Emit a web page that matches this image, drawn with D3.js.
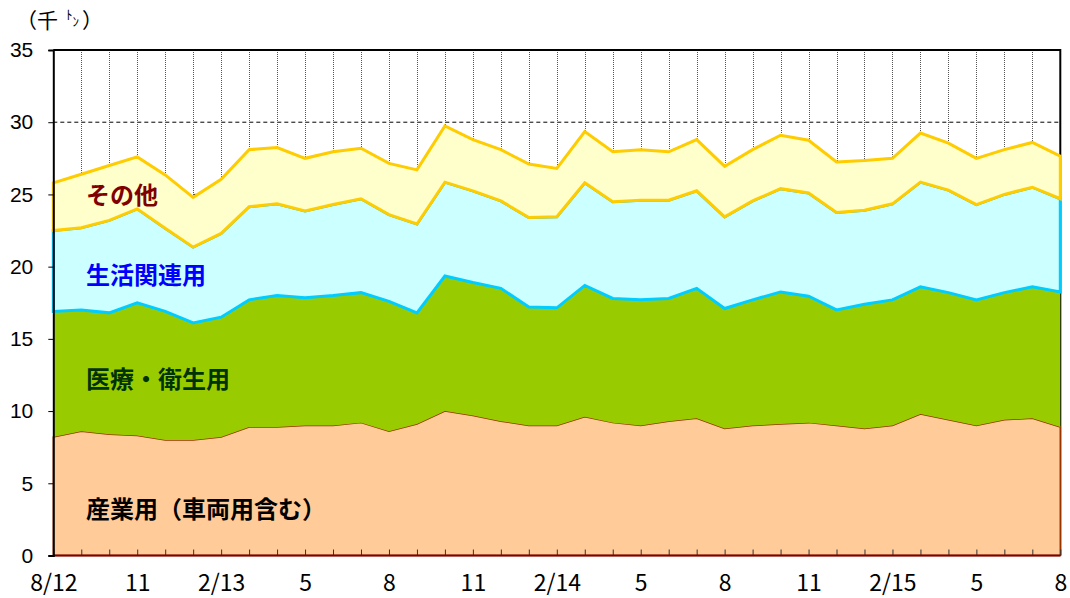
<!DOCTYPE html>
<html>
<head>
<meta charset="utf-8">
<script src="https://cdn.jsdelivr.net/npm/d3@7"></script>
<style>
  body { margin: 0; background: #fff; }
  svg { display: block; }
</style>
</head>
<body>
<div id="chart"></div>
<script>
// =================================== DATA ===================================

// x軸ラベル（3か月ごと）
const xLabels = ['8/12', '11', '2/13', '5', '8', '11', '2/14', '5', '8', '11', '2/15', '5', '8']

// 系列名
const seriesNames = ['産業用（車両用含む）', '医療・衛生用', '生活関連用', 'その他']

// 各系列の月次値（千トン）
const sangyo = [8.2, 8.6, 8.4, 8.3, 8.0, 8.0, 8.2, 8.9, 8.9, 9.0, 9.0, 9.2, 8.6, 9.1, 10.0, 9.7, 9.3, 9.0, 9.0,
  9.6, 9.2, 9.0, 9.3, 9.5, 8.8, 9.0, 9.1, 9.2, 9.0, 8.8, 9.0, 9.8, 9.4, 9.0, 9.4, 9.5, 8.9]
const iryo = [8.7, 8.4, 8.4, 9.2, 8.9, 8.1, 8.3, 8.8, 9.1, 8.85, 9.0, 9.0, 9.0, 7.7, 9.35, 9.2, 9.2, 8.2, 8.15,
  9.1, 8.6, 8.7, 8.5, 9.0, 8.3, 8.7, 9.15, 8.75, 8.0, 8.6, 8.7, 8.8, 8.8, 8.7, 8.8, 9.1, 9.35]
const seikatsu = [5.6, 5.7, 6.4, 6.5, 5.75, 5.25, 5.8, 6.45, 6.35, 6.0, 6.3, 6.5, 6.0, 6.15, 6.5, 6.35, 6.05, 6.2, 6.3,
  7.1, 6.7, 6.9, 6.8, 6.75, 6.35, 6.85, 7.15, 7.15, 6.75, 6.5, 6.65, 7.25, 7.1, 6.6, 6.8, 6.9, 6.45]
const sonota = [3.3, 3.7, 3.8, 3.6, 3.7, 3.45, 3.75, 3.95, 3.9, 3.65, 3.65, 3.5, 3.55, 3.75, 3.9, 3.55, 3.55, 3.7, 3.35,
  3.55, 3.45, 3.5, 3.35, 3.55, 3.5, 3.55, 3.7, 3.65, 3.5, 3.45, 3.15, 3.4, 3.25, 3.2, 3.1, 3.1, 2.95]

const yTicks = [0, 5, 10, 15, 20, 25, 30, 35]

// d3.stack 用の表
const table = sangyo.map((v, i) => ({
  i: i,
  [seriesNames[0]]: v,
  [seriesNames[1]]: iryo[i],
  [seriesNames[2]]: seikatsu[i],
  [seriesNames[3]]: sonota[i]
}))

// =================================== GRAPH SETTINGS ===================================

const width = 1070
const height = 598
const margin = { top: 50, right: 9.7, bottom: 42.5, left: 53.3 }

const svg = d3.select('#chart')
  .append('svg')
  .attr('width', width)
  .attr('height', height)

const x = d3.scaleLinear()
  .domain([0, sangyo.length - 1])
  .range([margin.left, width - margin.right])

const y = d3.scaleLinear()
  .domain([0, 35])
  .range([height - margin.bottom, margin.top])

const styles = [
  { fill: '#FFCC99', stroke: '#993300', width: 1.5 },
  { fill: '#99CC00', stroke: 'none', width: 0 },
  { fill: '#CCFFFF', stroke: '#00CCFF', width: 3 },
  { fill: '#FFFFCC', stroke: '#FFCC00', width: 3 }
]

// =================================== GRID ===================================

svg.append('g')
  .selectAll('line')
  .data(yTicks.filter(t => t > 0 && t < 35))
  .enter().append('line')
  .attr('x1', x(0)).attr('x2', x(sangyo.length - 1))
  .attr('y1', d => y(d)).attr('y2', d => y(d))
  .attr('stroke', '#000')
  .attr('stroke-width', 1)
  .attr('stroke-dasharray', '4,3')

svg.append('g')
  .selectAll('line')
  .data(d3.range(1, sangyo.length - 1))
  .enter().append('line')
  .attr('x1', d => Math.round(x(d)) + 0.5).attr('x2', d => Math.round(x(d)) + 0.5)
  .attr('y1', y(35)).attr('y2', y(0))
  .attr('stroke', '#555')
  .attr('stroke-width', 1)
  .attr('stroke-dasharray', '1,1')

// cadre (haut + droite)
svg.append('path')
  .attr('d', `M${x(0)},${y(35)}H${x(sangyo.length - 1)}V${y(0)}`)
  .attr('fill', 'none')
  .attr('stroke', '#000')
  .attr('stroke-width', 2)

// =================================== AREAS ===================================

const stacked = d3.stack().keys(seriesNames)(table)

const area = d3.area()
  .x(d => x(d.data.i))
  .y0(d => y(d[0]))
  .y1(d => y(d[1]))

svg.append('g')
  .selectAll('path')
  .data(stacked)
  .enter().append('path')
  .attr('d', area)
  .attr('fill', (d, k) => styles[k].fill)
  .attr('stroke', (d, k) => styles[k].stroke)
  .attr('stroke-width', (d, k) => styles[k].width)
  .attr('stroke-linejoin', 'miter')

// =================================== AXES ===================================

const xAxis = d3.axisBottom(x)
  .tickValues(d3.range(0, sangyo.length))
  .tickSize(-6)
  .tickPadding(19)
  .tickFormat(d => (d % 3 === 0 ? xLabels[d / 3] : ''))

const gx = svg.append('g')
  .attr('transform', `translate(0,${y(0)})`)
  .call(xAxis)
gx.select('.domain').remove()
gx.selectAll('.tick line').attr('stroke', '#333')
gx.selectAll('text')
  .attr('fill', '#000')
  .style('font-family', '"Noto Sans CJK JP", sans-serif')
  .style('font-size', '23px')

// bord inférieur rouge foncé
svg.append('line')
  .attr('x1', x(0)).attr('x2', x(sangyo.length - 1))
  .attr('y1', y(0)).attr('y2', y(0))
  .attr('stroke', '#800000')
  .attr('stroke-width', 2)

const yAxis = d3.axisLeft(y)
  .tickValues(yTicks)
  .tickSize(5)
  .tickPadding(15)

const gy = svg.append('g')
  .attr('transform', `translate(${x(0)},0)`)
  .call(yAxis)
gy.select('.domain').attr('stroke', '#000').attr('stroke-width', 2)
gy.selectAll('text')
  .attr('fill', '#000')
  .style('font-family', '"Liberation Sans", Arial, sans-serif')
  .style('font-size', '21px')

// =================================== LABELS ===================================

// (千ﾄﾝ)
const unit = svg.append('text')
  .attr('x', 16)
  .attr('y', 28)
  .attr('fill', '#000')
  .style('font-family', '"Noto Sans CJK JP", sans-serif')
  .style('font-size', '21px')
unit.append('tspan').text('（千')
unit.append('tspan').text('ﾄ').style('font-size', '13px').attr('dx', 8).attr('dy', -9)
unit.append('tspan').text('ﾝ').style('font-size', '13px').attr('dy', 7)
unit.append('tspan').text('）').attr('dx', 3).attr('dy', 2)

const seriesLabels = [
  { text: 'その他', y: 204, color: '#800000' },
  { text: '生活関連用', y: 284, color: '#0000FF' },
  { text: '医療・衛生用', y: 388, color: '#003300' },
  { text: '産業用（車両用含む）', y: 518, color: '#000000' }
]

svg.append('g')
  .selectAll('text')
  .data(seriesLabels)
  .enter().append('text')
  .attr('x', 86)
  .attr('y', d => d.y)
  .attr('fill', d => d.color)
  .style('font-family', '"Noto Sans CJK JP", sans-serif')
  .style('font-weight', 700)
  .style('font-size', '24px')
  .text(d => d.text)
</script>
</body>
</html>
